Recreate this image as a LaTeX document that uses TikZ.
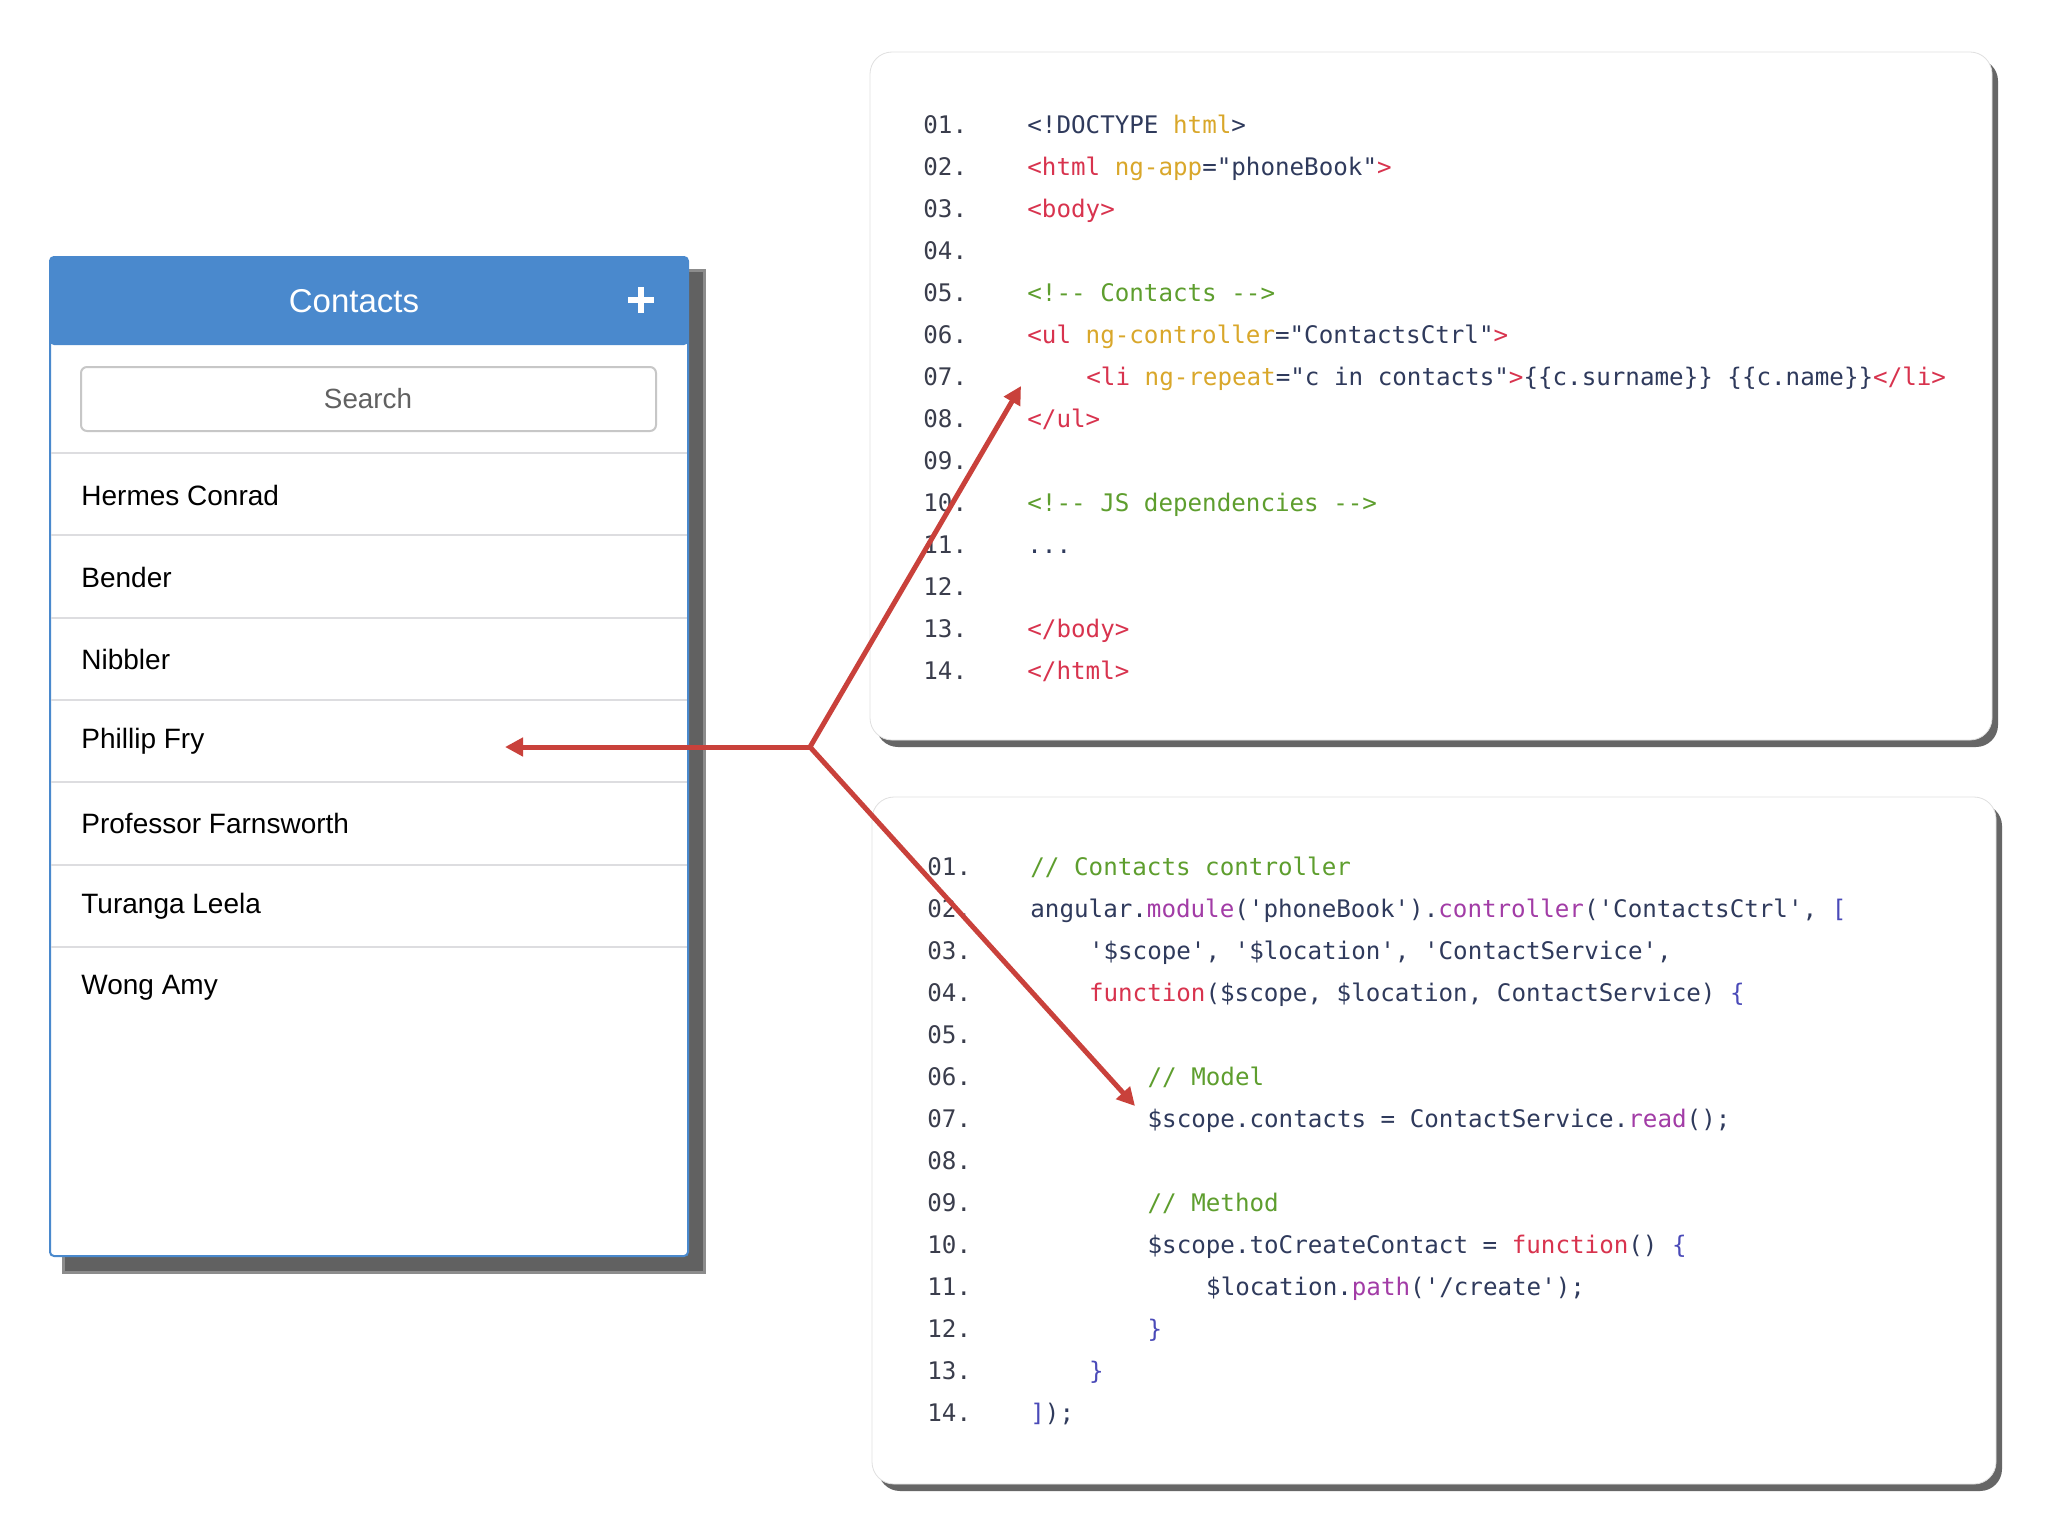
\documentclass[tikz,border=0pt]{standalone}
\usepackage{fontspec}
\setmainfont{Liberation Sans}
\setmonofont{DejaVu Sans Mono}
\usetikzlibrary{arrows.meta,shadows}

\definecolor{hdrblue}{HTML}{4A89CD}
\definecolor{sepgray}{HTML}{DDDDE0}
\definecolor{linkred}{HTML}{C9413B}
\definecolor{cnavy}{HTML}{2F3A5C}
\definecolor{cnum}{HTML}{3A3D4C}
\definecolor{ctag}{HTML}{D8334E}
\definecolor{cattr}{HTML}{D9A72A}
\definecolor{ccom}{HTML}{5E9E2E}
\definecolor{cfun}{HTML}{A23CA6}
\definecolor{cbrk}{HTML}{4A4AB8}

\newcommand{\hltag}[1]{\textcolor{ctag}{#1}}
\newcommand{\hlattr}[1]{\textcolor{cattr}{#1}}
\newcommand{\hlcom}[1]{\textcolor{ccom}{#1}}
\newcommand{\hlfun}[1]{\textcolor{cfun}{#1}}
\newcommand{\hlbrk}[1]{\textcolor{cbrk}{#1}}

\begin{document}
\begin{tikzpicture}[
    x=0.5pt, y=-0.5pt,
    codebox/.style={draw=black!12, fill=white, rounded corners=11pt,
        drop shadow={shadow xshift=3pt, shadow yshift=-3.5pt, opacity=.8, fill=black!75}},
    lnum/.style={anchor=mid west, inner sep=0pt, text=cnum, font=\ttfamily\fontsize{12.1}{14}\selectfont},
    code/.style={anchor=mid west, inner sep=0pt, text=cnavy, font=\ttfamily\fontsize{12.1}{14}\selectfont},
    entry/.style={anchor=west, inner sep=0pt, font=\fontsize{14}{16}\selectfont},
    sep/.style={draw=sepgray, line width=1pt},
    link/.style={draw=linkred, line width=2.5pt, -{Triangle[length=9pt,width=9pt]}}
]
\useasboundingbox (0,0) rectangle (2048,1536);
\fill[white] (0,0) rectangle (2048,1536);

% Contacts panel
\fill[black!45] (62,269) rectangle (706,1274);
\fill[black!62] (65,272) rectangle (703,1271);
\draw[hdrblue, line width=1pt, fill=white, rounded corners=2pt] (50,257) rectangle (688,1256);
\fill[hdrblue, rounded corners=2pt] (50,257) rectangle (688,345);
\node[text=white, font=\fontsize{16.5}{18}\selectfont] (title) at (354,301) {Contacts};
\draw[white, line width=3pt] (628,300) -- (654,300);
\draw[white, line width=3pt] (641,287) -- (641,313);
\draw[black!22, line width=1pt, rounded corners=3pt] (81,367) rectangle (656,431);
\node[text=black!62, font=\fontsize{13.9}{16}\selectfont] (search) at (368,399) {Search};
\foreach \y in {453,535,618,700,782,865,947}
    \draw[sep] (51,\y) -- (687,\y);

\node[entry] (hermes) at (81,495) {Hermes Conrad};
\node[entry] (bender) at (81,577) {Bender};
\node[entry] (nibbler) at (81,659) {Nibbler};
\node[entry] (fry) at (81,741) {Phillip Fry};
\node[entry] (farnsworth) at (81,823) {Professor Farnsworth};
\node[entry] (leela) at (81,906) {Turanga Leela};
\node[entry] (amy) at (81,988) {Wong Amy};

% HTML view
\path[codebox] (870,52) rectangle (1992,740);
\foreach \n [count=\i] in {01,02,03,04,05,06,07,08,09,10,11,12,13,14}
    \node[lnum] (hn\i) at (923,{128+42*(\i-1)}) {\n.};
\node[code] (h1) at (1027,128) {<!DOCTYPE \hlattr{html}>};
\node[code] (h2) at (1027,170) {\hltag{<html} \hlattr{ng-app}="phoneBook"\hltag{>}};
\node[code] (h3) at (1027,212) {\hltag{<body>}};
\node[code] (h5) at (1027,296) {\hlcom{<!-- Contacts -->}};
\node[code] (h6) at (1027,338) {\hltag{<ul} \hlattr{ng-controller}="ContactsCtrl"\hltag{>}};
\node[code] (h7) at (1086,380) {\hltag{<li} \hlattr{ng-repeat}="c in contacts"\hltag{>}\{\{c.surname\}\} \{\{c.name\}\}\hltag{</li>}};
\node[code] (h8) at (1027,422) {\hltag{</ul>}};
\node[code] (h10) at (1027,506) {\hlcom{<!-- JS dependencies -->}};
\node[code] (h11) at (1027,548) {...};
\node[code] (h13) at (1027,632) {\hltag{</body>}};
\node[code] (h14) at (1027,674) {\hltag{</html>}};

% JS controller
\path[codebox] (872,797) rectangle (1996,1484);
\foreach \n [count=\i] in {01,02,03,04,05,06,07,08,09,10,11,12,13,14}
    \node[lnum] (jn\i) at (927,{870+42*(\i-1)}) {\n.};
\node[code] (j1) at (1030,870) {\hlcom{// Contacts controller}};
\node[code] (j2) at (1030,912) {angular.\hlfun{module}('phoneBook').\hlfun{controller}('ContactsCtrl', \hlbrk{[}};
\node[code] (j3) at (1088.6,954) {'\$scope', '\$location', 'ContactService',};
\node[code] (j4) at (1088.6,996) {\hltag{function}(\$scope, \$location, ContactService) \hlbrk{\{}};
\node[code] (j6) at (1147.2,1080) {\hlcom{// Model}};
\node[code] (j7) at (1147.2,1122) {\$scope.contacts = ContactService.\hlfun{read}();};
\node[code] (j9) at (1147.2,1206) {\hlcom{// Method}};
\node[code] (j10) at (1147.2,1248) {\$scope.toCreateContact = \hltag{function}() \hlbrk{\{}};
\node[code] (j11) at (1205.8,1290) {\$location.\hlfun{path}('/create');};
\node[code] (j12) at (1147.2,1332) {\hlbrk{\}}};
\node[code] (j13) at (1088.6,1374) {\hlbrk{\}}};
\node[code] (j14) at (1030,1416) {\hlbrk{]});};

% Arrows
\coordinate (hub) at (810,747);
\coordinate (rowend) at (505,747);
\coordinate (viewend) at (1021,386);
\coordinate (ctrlend) at (1135,1106);
\draw[link] (hub) -- (rowend);
\draw[link] (hub) -- (viewend);
\draw[link] (hub) -- (ctrlend);
\end{tikzpicture}
\end{document}
